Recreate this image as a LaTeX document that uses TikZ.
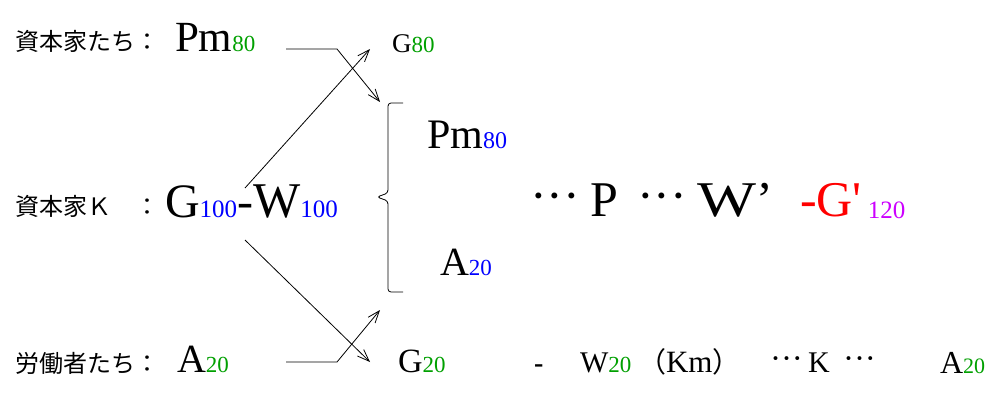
\documentclass[tikz,border=0pt]{standalone}
\usepackage{fontspec}
\usepackage{graphicx}
\setmainfont{Liberation Serif}
\newfontfamily\jp{Noto Sans CJK JP}
\newfontfamily\qf{Liberation Serif}[Ligatures=TeXOff]
\usetikzlibrary{arrows.meta}
\definecolor{gr}{RGB}{0,160,0}
\definecolor{bl}{RGB}{0,0,255}
\definecolor{rd}{RGB}{255,0,0}
\definecolor{mg}{RGB}{204,0,255}
\newcommand\fs[1]{\fontsize{#1}{#1}\selectfont}
\newcommand\mdots{\raisebox{4pt}{···}}
\begin{document}
\begin{tikzpicture}[x=1pt,y=-1pt,
  txt/.style={anchor=base west,inner sep=0pt,outer sep=0pt},
  arr/.style={line width=0.8pt,-{Straight Barb[length=12pt,width=9pt]}},
  brace/.style={line width=0.8pt,rounded corners=3pt}]
\useasboundingbox[fill=white] (0,0) rectangle (1000,415);
% top row
\node[txt] (jp1) at (15,50) {\jp\fs{24}資本家たち：};
\node[txt] (pm1) at (175,51) {\fs{43}Pm\textcolor{gr}{\fs{23}80}};
\node[txt] (g80) at (392,52) {\fs{27}G\textcolor{gr}{\fs{23}80}};
% middle row
\node[txt] (jp2) at (15,215) {\jp\fs{24}資本家Ｋ　：};
\node[txt] (gw) at (165,217) {\fs{48}G\textcolor{bl}{\fs{25}100}-\fs{50}W\textcolor{bl}{\fs{25}100}};
\node[txt] (pm2) at (427,148) {\fs{42}Pm\textcolor{bl}{\fs{24}80}};
\node[txt] (a2) at (440,275) {\fs{40}A\textcolor{bl}{\fs{23}20}};
\node[txt] (dotsa) at (530,216) {\fs{50}\mdots};
\node[txt] (pp) at (590,216) {\fs{50}P};
\node[txt] (dotsb) at (637,216) {\fs{50}\mdots};
\node[txt] (ww) at (697,216) {\fs{50}\scalebox{1.25}[1]{W}’};
\node[txt] (g120) at (800,216) {\color{rd}\fs{50}-G{\qf '}\hspace{6pt}\textcolor{mg}{\fs{25}\raisebox{-2pt}{120}}};
% bottom row
\node[txt] (jp3) at (15,372) {\jp\fs{24}労働者たち：};
\node[txt] (a3) at (177,372) {\fs{40}A\textcolor{gr}{\fs{23}20}};
\node[txt] (g20) at (398,372) {\fs{34}G\textcolor{gr}{\fs{23}20}};
\node[txt] (dash) at (534,372) {\fs{28}\bfseries -};
\node[txt] (w20) at (580,372) {\fs{30}W\textcolor{gr}{\fs{23}20}};
\node[txt] (km) at (638,372) {\jp\fs{28}（\rmfamily\fs{31}Km\jp\fs{28}）};
\node[txt] (dotsc) at (770,372) {\fs{33}\raisebox{3pt}{···}};
\node[txt] (kk) at (808,372) {\fs{30}K};
\node[txt] (dotsd) at (843,372) {\fs{33}\raisebox{3pt}{···}};
\node[txt] (a4) at (940,373) {\fs{32}A\textcolor{gr}{\fs{22}20}};
% brace
\draw[brace] (403,103) -- (388,103) -- (388,193) -- (377,197) -- (388,201) -- (388,292) -- (403,292);
% connectors
\coordinate (c1) at (286,49);
\coordinate (c2) at (337,49);
\coordinate (c3) at (380,102);
\coordinate (u1) at (245,188);
\coordinate (u2) at (370,49);
\coordinate (v1) at (245,240);
\coordinate (v2) at (370,362);
\coordinate (b1) at (286,362);
\coordinate (b2) at (337,362);
\coordinate (b3) at (380,310);
\draw[arr] (c1) -- (c2) -- (c3);
\draw[arr] (u1) -- (u2);
\draw[arr] (v1) -- (v2);
\draw[arr] (b1) -- (b2) -- (b3);
\end{tikzpicture}
\end{document}
